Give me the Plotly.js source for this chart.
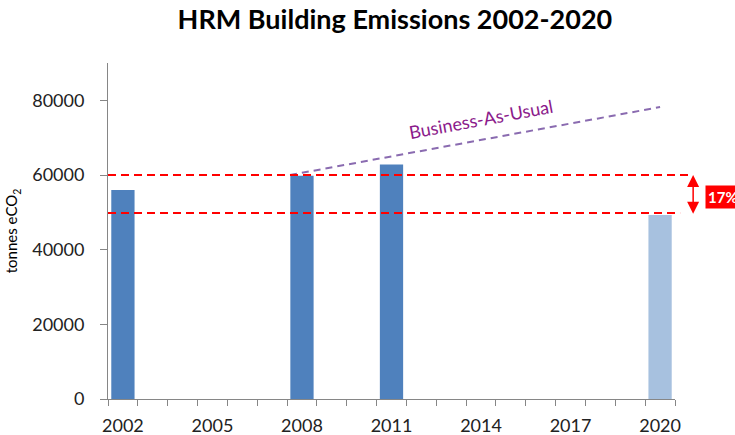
<!DOCTYPE html>
<html>
<head>
<meta charset="utf-8">
<script src="https://cdn.plot.ly/plotly-3.0.1.min.js"></script>
<style>html,body{margin:0;padding:0;background:#fff;}#chart{width:735px;height:435px;}</style>
</head>
<body>
<div id="chart"></div>
<script>
// ---- data ----
const actualYears = [2002, 2008, 2011];
const actualValues = [56000, 59800, 62800];
const targetYears = [2020];
const targetValues = [49300];
const bauYears = [2007.6, 2020];
const bauValues = [60000, 78200];
const baselineLevel = 60000;
const targetLevel = 49800;
const tickYears = [2002, 2005, 2008, 2011, 2014, 2017, 2020];
const tickLabels = ['2002', '2005', '2008', '2011', '2014', '2017', '2020'];
const reductionLabel = '17%';

const FONT = 'Lato, "Open Sans", sans-serif';
const axisGrey = '#868686';

const traces = [
  {type: 'bar', x: actualYears, y: actualValues, width: 0.78,
   marker: {color: '#4F81BD', line: {width: 0}}, showlegend: false, hoverinfo: 'x+y'},
  {type: 'bar', x: targetYears, y: targetValues, width: 0.78,
   marker: {color: '#A7C1DF', line: {width: 0}}, showlegend: false, hoverinfo: 'x+y'},
  {type: 'scatter', mode: 'lines', x: bauYears, y: bauValues,
   line: {color: '#8A6BB0', width: 2, dash: '7px,5px'}, showlegend: false, cliponaxis: false}
];

const layout = {
  width: 735, height: 435,
  margin: {l: 108, r: 60, t: 63, b: 36},
  paper_bgcolor: '#fff', plot_bgcolor: '#fff',
  font: {family: FONT, color: '#222'},
  title: {text: '<b>HRM Building Emissions 2002-2020</b>', font: {family: FONT, size: 27, color: '#000'},
          x: 0.506, xref: 'paper', xanchor: 'center', y: 0.955, yanchor: 'middle'},
  barmode: 'overlay',
  xaxis: {type: 'linear', range: [2001.5, 2020.5], tickvals: tickYears, ticktext: tickLabels,
          ticks: '', showgrid: false, zeroline: false, showline: true, linecolor: axisGrey, linewidth: 1,
          tickfont: {family: FONT, size: 18, color: '#222'}, ticklabelstandoff: 10,
          minor: {tick0: 2001.5, dtick: 1, ticks: 'outside', ticklen: 6, tickcolor: axisGrey, tickwidth: 1, showgrid: false},
          fixedrange: true},
  yaxis: {range: [0, 90000], tickvals: [0, 20000, 40000, 60000, 80000], ticks: 'outside', ticklen: 7,
          tickcolor: axisGrey, showgrid: false, zeroline: false, showline: true, linecolor: axisGrey,
          tickformat: 'd', tickfont: {family: FONT, size: 18, color: '#222'}, ticklabelstandoff: 12,
          title: {text: 'tonnes eCO<sub>2</sub>', font: {family: FONT, size: 15, color: '#000'}, standoff: 10},
          fixedrange: true},
  shapes: [
    {type: 'line', xref: 'paper', yref: 'y', x0: 0, x1: 1.026, y0: baselineLevel, y1: baselineLevel,
     line: {color: '#FF0000', width: 2, dash: '8px,5px'}},
    {type: 'line', xref: 'paper', yref: 'y', x0: 0, x1: 1.009, y0: targetLevel, y1: targetLevel,
     line: {color: '#FF0000', width: 2, dash: '8px,5px'}}
  ],
  annotations: [
    {xref: 'x', yref: 'y', x: 2014.0, y: 75000, text: 'Business-As-Usual', showarrow: false,
     textangle: -10.5, font: {family: FONT, size: 18, color: '#8B1A8B'}},
    {xref: 'paper', yref: 'y', x: 1.032, y: targetLevel - 200, ax: 1.032, ay: baselineLevel + 400, axref: 'paper', ayref: 'y',
     text: '', showarrow: true, arrowside: 'end+start', arrowhead: 2, arrowsize: 1.6, arrowwidth: 1.5, arrowcolor: '#FF0000'},
    {xref: 'paper', yref: 'y', x: 1.053, y: (baselineLevel + targetLevel) / 2 - 800, xanchor: 'left', yanchor: 'middle',
     text: '<b>' + reductionLabel + '</b>', showarrow: false, bgcolor: '#FF0000', borderpad: 2,
     font: {family: FONT, size: 15, color: '#fff'}}
  ]
};

Plotly.newPlot('chart', traces, layout, {displayModeBar: false, staticPlot: true});
</script>
</body>
</html>
